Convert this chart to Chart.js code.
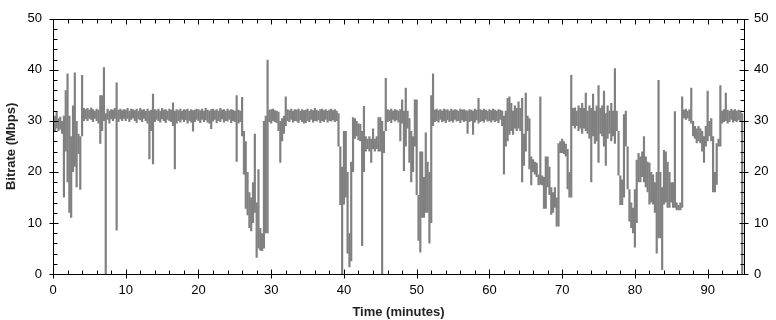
<!DOCTYPE html>
<html>
<head>
<meta charset="utf-8">
<script src="https://cdn.jsdelivr.net/npm/chart.js@4.4.1/dist/chart.umd.min.js"></script>
<style>
  html, body { margin: 0; padding: 0; background: #fff; }
  #wrap { width: 776px; height: 320px; }
</style>
</head>
<body>
<div id="wrap"><canvas id="chart"></canvas></div>
<script>
// bitrate envelope (Mbps): low / high of the trace in each 0.25 minute slot,
// one pair of arrays per 10 minutes
const STEP = 0.25;
const lo0 = [28.0, 27.8, 28.5, 28.0, 28.3, 27.5, 15.0, 24.0, 18.0, 12.0, 11.0, 20.0, 21.0, 17.0, 23.5, 16.5, 27.0, 30.0, 30.3, 30.0,
             30.4, 30.2, 29.8, 30.4, 30.0, 29.5, 25.5, 28.0, 30.0, 0.0, 30.2, 29.5, 30.3, 30.0, 30.4, 8.5, 29.8, 30.3, 30.0, 30.4];
const hi0 = [30.5, 31.0, 31.8, 30.5, 30.8, 30.0, 31.0, 36.0, 39.3, 31.0, 27.0, 33.0, 39.5, 30.0, 27.5, 27.0, 39.0, 32.5, 32.3, 32.5,
             32.2, 32.6, 32.3, 32.0, 32.4, 32.2, 35.0, 35.0, 40.5, 31.5, 32.4, 32.0, 32.3, 32.2, 32.5, 37.5, 32.2, 32.4, 32.1, 32.3];
const lo1 = [30.0, 30.4, 29.8, 30.2, 30.5, 30.0, 29.6, 30.3, 30.1, 29.8, 30.4, 30.0, 29.5, 22.5, 28.0, 21.5, 29.8, 30.2, 30.0, 29.7,
             30.3, 30.0, 29.6, 30.2, 30.0, 29.8, 29.0, 20.5, 29.5, 30.0, 29.7, 30.2, 29.8, 30.1, 29.5, 30.0, 29.7, 27.9, 29.8, 30.2];
const hi1 = [32.2, 32.5, 32.0, 32.4, 32.3, 32.1, 32.4, 32.0, 32.5, 32.2, 32.3, 32.0, 32.4, 32.0, 32.2, 35.3, 32.3, 32.1, 32.4, 32.0,
             32.5, 32.2, 32.3, 32.0, 32.4, 32.2, 33.6, 32.0, 32.3, 32.1, 32.4, 32.0, 32.3, 32.2, 32.4, 32.0, 32.3, 32.1, 32.2, 32.4];
const lo2 = [30.0, 29.6, 30.2, 29.8, 30.1, 29.7, 29.5, 28.4, 29.9, 30.2, 29.6, 30.0, 29.8, 30.3, 29.7, 30.0, 29.9, 30.2, 29.6, 30.0,
             29.8, 22.0, 29.5, 29.8, 27.0, 19.5, 12.8, 11.5, 9.0, 8.4, 10.0, 12.0, 3.2, 5.0, 4.6, 4.5, 5.0, 8.0, 8.0, 29.8];
const hi2 = [32.3, 32.1, 32.4, 32.0, 32.5, 32.2, 32.0, 32.3, 32.4, 32.1, 32.3, 32.0, 32.5, 32.2, 32.3, 32.0, 32.4, 32.1, 32.3, 32.2,
             32.0, 35.0, 32.2, 32.0, 34.7, 28.0, 26.0, 20.0, 16.0, 15.0, 18.0, 27.5, 14.0, 20.5, 9.0, 8.0, 30.0, 31.0, 42.0, 32.2];
const lo3 = [29.5, 30.0, 29.8, 29.6, 28.0, 21.8, 26.0, 27.5, 29.0, 30.0, 29.8, 30.2, 29.7, 30.0, 29.9, 29.6, 30.1, 29.8, 29.5, 29.6,
             30.0, 29.8, 30.2, 29.7, 30.0, 29.9, 30.1, 29.6, 30.0, 29.8, 30.2, 29.7, 30.0, 29.9, 30.1, 29.8, 30.0, 25.0, 13.5, 0.0];
const hi3 = [32.3, 32.4, 32.1, 32.0, 31.8, 30.0, 30.5, 31.0, 34.8, 32.3, 32.1, 32.4, 32.0, 32.3, 32.2, 32.4, 32.0, 32.3, 32.1, 32.2,
             32.4, 32.0, 32.3, 32.1, 32.5, 32.2, 32.0, 32.3, 32.4, 32.1, 32.3, 32.0, 32.2, 32.4, 32.1, 32.3, 32.0, 31.5, 25.0, 21.0];
const lo4 = [13.6, 15.0, 4.0, 1.3, 2.5, 20.0, 26.5, 27.0, 26.2, 26.0, 5.5, 20.0, 24.0, 24.5, 24.0, 21.8, 24.5, 24.0, 24.5, 24.0,
             24.0, 0.0, 23.7, 28.0, 29.8, 30.0, 29.6, 30.2, 29.9, 30.1, 29.7, 26.0, 29.5, 20.2, 25.0, 28.5, 21.8, 18.0, 20.0, 25.0];
const hi4 = [28.0, 28.0, 20.0, 8.0, 22.0, 30.7, 30.5, 30.0, 29.5, 29.4, 28.0, 32.9, 27.0, 26.5, 27.0, 26.5, 28.5, 26.5, 27.0, 30.7,
             30.7, 30.0, 28.0, 38.4, 32.3, 32.1, 32.4, 32.0, 32.3, 32.2, 32.0, 32.3, 34.2, 32.0, 36.5, 32.0, 30.5, 28.0, 27.0, 34.2];
const lo5 = [15.5, 6.5, 4.2, 11.0, 11.0, 12.0, 12.0, 6.0, 10.0, 29.0, 29.8, 30.0, 29.7, 30.2, 29.8, 30.0, 29.6, 30.1, 29.8, 30.0,
             29.7, 30.2, 29.9, 30.0, 29.6, 30.1, 29.8, 30.0, 27.5, 29.8, 30.0, 27.3, 29.7, 30.1, 29.5, 29.8, 30.0, 29.7, 30.2, 29.9];
const hi5 = [34.2, 15.5, 24.0, 24.0, 19.0, 27.7, 22.0, 20.0, 35.0, 39.3, 32.2, 32.4, 32.1, 32.3, 32.0, 32.4, 32.2, 32.3, 32.0, 32.4,
             32.1, 32.3, 32.2, 32.0, 32.4, 32.2, 32.3, 32.1, 32.0, 32.3, 32.2, 32.0, 32.4, 32.2, 34.5, 32.3, 32.1, 32.4, 32.2, 32.0];
const lo6 = [30.0, 29.7, 30.1, 29.8, 30.0, 29.6, 30.2, 29.0, 19.5, 25.0, 26.0, 27.3, 28.0, 27.3, 28.5, 28.0, 28.5, 28.0, 18.0, 21.2,
             24.0, 28.0, 20.5, 17.4, 20.0, 19.5, 19.0, 17.4, 17.5, 17.4, 12.8, 12.8, 17.0, 15.5, 11.6, 12.0, 13.0, 9.3, 9.3, 23.7];
const hi6 = [32.3, 32.1, 32.4, 32.2, 32.0, 32.3, 32.2, 32.0, 31.0, 32.0, 34.5, 34.8, 33.5, 32.0, 33.0, 32.5, 33.8, 32.5, 34.5, 27.5,
             35.5, 31.0, 30.5, 23.0, 22.5, 22.0, 21.8, 19.5, 34.8, 19.3, 19.0, 23.0, 23.0, 21.0, 17.0, 16.0, 17.0, 15.0, 25.6, 26.0];
const lo7 = [23.7, 23.5, 23.0, 16.6, 15.0, 15.0, 29.0, 28.5, 29.0, 28.0, 28.5, 27.5, 28.5, 28.0, 27.5, 26.5, 18.0, 27.0, 25.5, 26.0,
             21.8, 27.5, 27.0, 25.0, 21.2, 26.5, 27.5, 26.0, 27.0, 25.5, 28.0, 19.3, 13.5, 13.5, 15.0, 25.0, 16.6, 10.3, 9.0, 8.0];
const hi7 = [26.5, 26.0, 25.5, 24.5, 20.0, 39.0, 32.5, 32.6, 32.0, 33.0, 32.5, 33.5, 32.5, 35.5, 32.0, 33.0, 32.5, 35.3, 32.0, 33.0,
             37.0, 32.5, 33.0, 35.9, 31.5, 33.0, 32.0, 33.5, 32.0, 40.3, 32.0, 28.0, 19.3, 18.5, 31.3, 32.0, 25.0, 16.6, 14.0, 13.0];
const lo8 = [5.2, 10.0, 18.0, 18.0, 19.0, 18.0, 17.0, 16.0, 13.6, 14.0, 13.6, 12.0, 4.0, 7.0, 7.0, 0.8, 13.6, 14.0, 13.0, 13.0,
             14.0, 13.0, 13.0, 12.5, 12.5, 12.5, 13.0, 30.5, 30.2, 30.5, 30.0, 29.5, 27.0, 26.5, 25.6, 26.0, 25.6, 24.0, 21.8, 25.0];
const hi8 = [16.6, 22.4, 23.7, 23.0, 24.0, 27.0, 23.0, 22.0, 21.8, 20.0, 19.5, 18.0, 20.0, 38.0, 20.0, 17.0, 24.3, 24.0, 22.0, 20.0,
             18.0, 18.0, 31.9, 14.0, 13.5, 14.0, 34.8, 32.2, 32.4, 32.0, 32.3, 36.5, 30.0, 29.0, 28.5, 29.0, 28.5, 28.0, 27.0, 29.0];
const lo9 = [26.0, 27.0, 26.0, 16.0, 16.0, 17.5, 25.0, 25.0, 29.5, 29.8, 30.0, 29.5, 29.8, 30.2, 29.7, 30.0, 29.8, 30.1, 29.8, 0.0];
const hi9 = [35.9, 30.0, 30.5, 27.0, 20.0, 25.6, 26.5, 37.0, 32.0, 32.3, 35.5, 32.2, 32.0, 32.4, 32.1, 32.3, 32.0, 32.2, 32.1, 31.5];

const lows = [lo0, lo1, lo2, lo3, lo4, lo5, lo6, lo7, lo8, lo9];
const highs = [hi0, hi1, hi2, hi3, hi4, hi5, hi6, hi7, hi8, hi9];

const xTicks = [0, 10, 20, 30, 40, 50, 60, 70, 80, 90];
const yTicks = [0, 10, 20, 30, 40, 50];

const ranges = [];
lows.forEach((seg, k) => {
  seg.forEach((v, i) => ranges.push({ x: k * 10 + i * STEP, y: [v, highs[k][i]] }));
});

const FONT = "'Liberation Sans', Arial, sans-serif";

// box, inward minor ticks and crossing major ticks, plus axis titles
const frame = {
  id: 'frame',
  afterDraw(chart) {
    const ctx = chart.ctx;
    const { left, right, top, bottom } = chart.chartArea;
    const xs = chart.scales.x;
    const ys = chart.scales.y;
    const L = Math.round(left) + 0.5, R = Math.round(right) + 0.5;
    const T = Math.round(top) + 0.5, B = Math.round(bottom) + 0.5;
    ctx.save();
    ctx.strokeStyle = '#000';
    ctx.lineWidth = 1;
    ctx.beginPath();
    ctx.rect(L, T, R - L, B - T);
    for (let v = 0; v <= 95; v += 2) {
      const px = Math.round(xs.getPixelForValue(v)) + 0.5;
      const major = v % 10 === 0;
      ctx.moveTo(px, B + (major ? 4 : 0));
      ctx.lineTo(px, B - (major ? 5 : 4));
      ctx.moveTo(px, T);
      ctx.lineTo(px, T + (major ? 5 : 4));
    }
    for (let v = 0; v <= 50; v += 2) {
      const py = Math.round(ys.getPixelForValue(v)) + 0.5;
      const major = v % 10 === 0;
      ctx.moveTo(L - (major ? 4 : 0), py);
      ctx.lineTo(L + (major ? 5 : 4), py);
      ctx.moveTo(R + (major ? 4 : 0), py);
      ctx.lineTo(R - (major ? 5 : 4), py);
    }
    ctx.stroke();

    ctx.fillStyle = '#222';
    ctx.font = 'bold 13px ' + FONT;
    ctx.textAlign = 'center';
    ctx.textBaseline = 'middle';
    ctx.fillText('Time (minutes)', (left + right) / 2, 312);
    ctx.translate(11, (top + bottom) / 2);
    ctx.rotate(-Math.PI / 2);
    ctx.fillText('Bitrate (Mbps)', 0, 0);
    ctx.restore();
  }
};

const tickFont = { family: FONT, size: 13 };

new Chart(document.getElementById('chart'), {
  type: 'bar',
  data: {
    datasets: [{
      data: ranges,
      backgroundColor: '#808080',
      borderWidth: 0,
      barPercentage: 1.2,
      categoryPercentage: 1
    }]
  },
  options: {
    responsive: true,
    maintainAspectRatio: false,
    animation: false,
    events: [],
    layout: { padding: { top: 12, left: 0, right: 0, bottom: 0 } },
    plugins: { legend: { display: false }, tooltip: { enabled: false } },
    scales: {
      x: {
        type: 'linear',
        position: 'bottom',
        offset: false,
        min: 0,
        max: 95,
        afterBuildTicks: s => { s.ticks = xTicks.map(v => ({ value: v })); },
        afterFit: s => { s.height = 46; },
        ticks: { font: tickFont, color: '#000', padding: 9, maxRotation: 0 },
        grid: { display: false, drawTicks: false },
        border: { display: false }
      },
      y: {
        position: 'left',
        min: 0,
        max: 50,
        afterBuildTicks: s => { s.ticks = yTicks.map(v => ({ value: v })); },
        afterFit: s => { s.width = 53; },
        ticks: { font: tickFont, color: '#000', padding: 11 },
        grid: { display: false, drawTicks: false },
        border: { display: false }
      },
      y2: {
        position: 'right',
        min: 0,
        max: 50,
        afterBuildTicks: s => { s.ticks = yTicks.map(v => ({ value: v })); },
        afterFit: s => { s.width = 32; },
        ticks: { font: tickFont, color: '#000', padding: 10 },
        grid: { display: false, drawTicks: false },
        border: { display: false }
      }
    }
  },
  plugins: [frame]
});
</script>
</body>
</html>
